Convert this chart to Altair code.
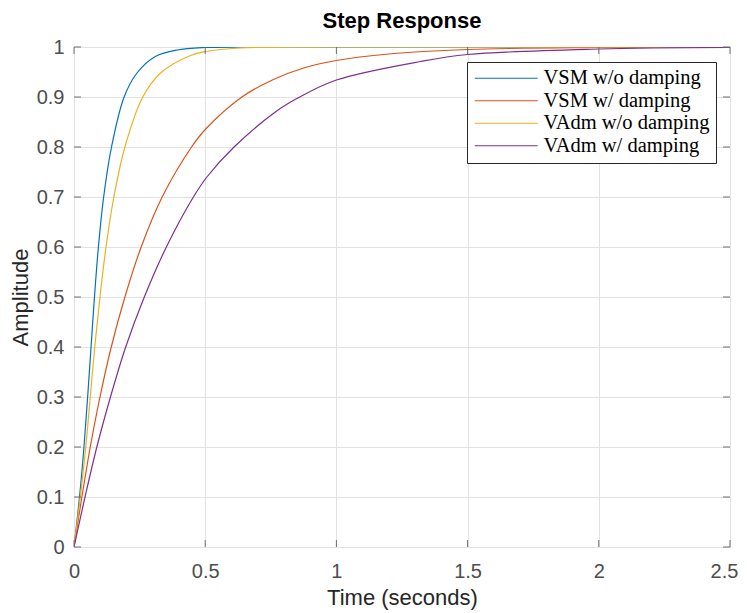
import altair as alt
import pandas as pd

# ---- data ----
series_names = ["VSM w/o damping", "VSM w/ damping", "VAdm w/o damping", "VAdm w/ damping"]
series_colors = ["#0072BD", "#D95319", "#EDB120", "#7E2F8E"]

vsm_nodamp_t = [0, 0.021, 0.038, 0.052, 0.065, 0.078, 0.093, 0.113, 0.143, 0.191, 0.24, 0.31, 0.393, 0.5, 0.65, 0.9, 2.5]
vsm_nodamp_y = [0, 0.1, 0.2, 0.3, 0.4, 0.5, 0.6, 0.7, 0.8, 0.9, 0.948, 0.981, 0.994, 0.999, 1.0, 1.0, 1.0]

vsm_damp_t = [0, 0.030, 0.062, 0.099, 0.142, 0.194, 0.256, 0.336, 0.448, 0.502, 0.64, 0.76, 0.875, 1.0, 1.2, 1.5, 2.0, 2.5]
vsm_damp_y = [0, 0.1, 0.2, 0.3, 0.4, 0.5, 0.6, 0.7, 0.8, 0.836, 0.9, 0.935, 0.958, 0.973, 0.986, 0.995, 0.999, 1.0]

vadm_nodamp_t = [0, 0.024, 0.045, 0.062, 0.079, 0.099, 0.122, 0.152, 0.194, 0.262, 0.33, 0.444, 0.502, 0.634, 0.8, 1.0, 2.5]
vadm_nodamp_y = [0, 0.1, 0.2, 0.3, 0.4, 0.5, 0.6, 0.7, 0.8, 0.9, 0.948, 0.983, 0.991, 0.998, 0.9995, 1.0, 1.0]

vadm_damp_t = [0, 0.042, 0.087, 0.139, 0.197, 0.268, 0.352, 0.455, 0.508, 0.61, 0.775, 0.86, 1.0, 1.32, 1.5, 2.0, 2.5]
vadm_damp_y = [0, 0.1, 0.2, 0.3, 0.4, 0.5, 0.6, 0.7, 0.741, 0.8, 0.873, 0.9, 0.934, 0.971, 0.985, 0.996, 0.999]

x_ticks = [0, 0.5, 1, 1.5, 2, 2.5]
y_ticks = [0, 0.1, 0.2, 0.3, 0.4, 0.5, 0.6, 0.7, 0.8, 0.9, 1]

rows = []
for name, ts, ys in zip(series_names,
                        [vsm_nodamp_t, vsm_damp_t, vadm_nodamp_t, vadm_damp_t],
                        [vsm_nodamp_y, vsm_damp_y, vadm_nodamp_y, vadm_damp_y]):
    for t, y in zip(ts, ys):
        rows.append({"series": name, "t": t, "y": y})
df = pd.DataFrame(rows)

W, H = 656, 500
xscale = alt.Scale(domain=[0, 2.5], nice=False, zero=False)
yscale = alt.Scale(domain=[0, 1], nice=False, zero=False)

lines = alt.Chart(df).mark_line(strokeWidth=1.2, interpolate="catmull-rom", clip=True).encode(
    x=alt.X("t:Q", scale=xscale,
            axis=alt.Axis(values=x_ticks, format="~g", title="Time (seconds)", grid=True,
                          ticks=False, domain=False, labelPadding=14, titlePadding=6,
                          labelFlush=False,
                          labelOffset=alt.ExprRef("datum.value >= 2.5 ? -6 : 0"))),
    y=alt.Y("y:Q", scale=yscale,
            axis=alt.Axis(values=y_ticks, format="~g", title="Amplitude", grid=True,
                          ticks=False, domain=False, labelPadding=10, titlePadding=4)),
    color=alt.Color("series:N", sort=series_names,
                    scale=alt.Scale(domain=series_names, range=series_colors),
                    legend=alt.Legend(title=None, orient="none", legendX=393, legendY=15,
                                      symbolType="M-6,0H6", symbolSize=110, symbolStrokeWidth=1.2,
                                      symbolOffset=23, labelOffset=27, labelLimit=400,
                                      labelFont="Liberation Serif", labelFontSize=20.5,
                                      labelColor="#000000",
                                      padding=6, rowPadding=1.5,
                                      strokeColor="#262626", fillColor="#ffffff")),
)

xt = pd.DataFrame({"t": x_ticks})
yt = pd.DataFrame({"y": y_ticks})
tick_color = "#6e6e6e"
xb = alt.Chart(xt).mark_rule(color=tick_color).encode(x=alt.X("t:Q", scale=xscale), y=alt.value(H), y2=alt.value(H - 7))
xtop = alt.Chart(xt).mark_rule(color=tick_color).encode(x=alt.X("t:Q", scale=xscale), y=alt.value(0), y2=alt.value(7))
yl = alt.Chart(yt).mark_rule(color=tick_color).encode(y=alt.Y("y:Q", scale=yscale), x=alt.value(0), x2=alt.value(7))
yr = alt.Chart(yt).mark_rule(color=tick_color).encode(y=alt.Y("y:Q", scale=yscale), x=alt.value(W), x2=alt.value(W - 7))

chart = alt.layer(lines, xb, xtop, yl, yr).properties(
    width=W, height=H,
    title=alt.TitleParams("Step Response", font="Liberation Sans", fontSize=22, fontWeight="bold",
                          color="#000000", anchor="middle", offset=4),
    padding={"left": 66, "top": 39, "right": 9, "bottom": 66},
    autosize=alt.AutoSizeParams(type="none"),
).configure_view(stroke="#7f7f7f", strokeWidth=1).configure_axis(
    labelFont="Liberation Sans", labelFontSize=20, labelColor="#4d4d4d",
    titleFont="Liberation Sans", titleFontSize=22, titleColor="#262626", titleFontWeight="normal",
    gridColor="#e2e2e2", gridWidth=1,
)

chart.save("out.html", embed_options={"renderer": "svg", "actions": False})
